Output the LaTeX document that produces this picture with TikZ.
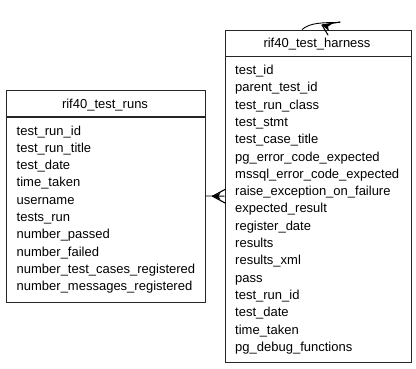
\documentclass[tikz,border=0pt]{standalone}
\usepackage{fontspec}
\setmainfont{Liberation Sans}
\usetikzlibrary{calc}
\begin{document}
\begin{tikzpicture}[x=1pt,y=-1pt,
  tbl/.style={draw=black!85, line width=0.9pt, rectangle, inner sep=0pt, anchor=north west},
  sep/.style={draw=black!85, line width=1.6pt},
  field/.style={anchor=base west, inner sep=0pt, font=\fontsize{13}{15}\selectfont},
  title/.style={anchor=base, inner sep=0pt, font=\fontsize{13}{15}\selectfont},
  link/.style={draw=black, line width=0.9pt},
  crow/.style={draw=black, line width=1.1pt, line cap=round}]
\useasboundingbox (0,0) rectangle (416,368);

% table rif40_test_runs
\node[tbl, minimum width=199pt, minimum height=212pt] (runs) at (5.5,89.5) {};
\draw[sep] (5.5,116.8) -- (204.5,116.8);
\node[title] (runsT) at (105,108.3) {rif40\_test\_runs};
\foreach \t [count=\i] in {test\_run\_id, test\_run\_title, test\_date, time\_taken,
  username, tests\_run, number\_passed, number\_failed,
  number\_test\_cases\_registered, number\_messages\_registered}
  \node[field] (r\i) at (16.5,{135+17.3*(\i-1)}) {\t};

% table rif40_test_harness
\node[tbl, minimum width=186pt, minimum height=332.5pt] (harness) at (224.5,29.5) {};
\draw[sep] (224.5,56.5) -- (410.5,56.5);
\node[title] (harnessT) at (317,47) {rif40\_test\_harness};
\foreach \t [count=\i] in {test\_id, parent\_test\_id, test\_run\_class, test\_stmt,
  test\_case\_title, pg\_error\_code\_expected, mssql\_error\_code\_expected,
  raise\_exception\_on\_failure, expected\_result, register\_date, results,
  results\_xml, pass, test\_run\_id, test\_date, time\_taken, pg\_debug\_functions}
  \node[field] (h\i) at (235,{74.5+17.3*(\i-1)}) {\t};

% relationship: test_runs -> test_harness (crow's foot at harness)
\draw[link] (runs.east) -- (harness.west);
\coordinate (cf) at ($(harness.west)+(-12,0)$);
\fill (cf) -- ($(harness.west)+(-4,-3.5)$) -- ($(harness.west)+(-6,0)$) -- ($(harness.west)+(-4,3.5)$) -- cycle;
\draw[crow] (cf) -- ($(harness.west)+(1,-7)$);
\draw[crow] (cf) -- ($(harness.west)+(1,7)$);

% self relationship on test_harness (parent_test_id)
\coordinate (sa) at (302,29.5);
\coordinate (sb) at (340,22.5);
\coordinate (sc) at (322,25);
\draw[link] (sa) .. controls (310,23) and (320,22.5) .. (sb);
\fill (sc) -- (333,23.2) -- (328,26.5) -- (329,31) -- cycle;
\draw[crow] (sc) -- (340,22);
\draw[crow] (sc) -- (328,35);
\end{tikzpicture}
\end{document}
